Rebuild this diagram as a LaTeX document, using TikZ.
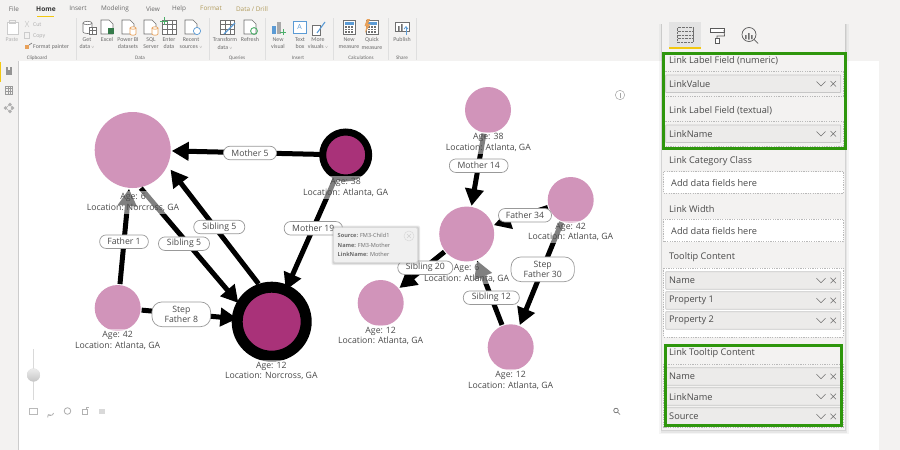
\documentclass[tikz,border=0pt]{standalone}
\usepackage{fontspec}
\setmainfont{Open Sans}
\newfontfamily\ribfont{Carlito}
\usetikzlibrary{arrows.meta}
\definecolor{ribbonbg}{HTML}{F3F2F1}
\definecolor{lightnode}{HTML}{D194BA}
\definecolor{darknode}{HTML}{A93279}
\definecolor{greenbox}{HTML}{2E960C}
\definecolor{goldbar}{HTML}{F2C811}
\definecolor{wellgray}{HTML}{ECEBEA}
\definecolor{txt}{HTML}{4A4A4A}
\definecolor{ribtxt}{HTML}{6A6A6A}
\definecolor{iconline}{HTML}{707070}
\definecolor{accblue}{HTML}{5B9BD5}
\definecolor{accorange}{HTML}{E8A15A}
\definecolor{accgreen}{HTML}{4CAF6A}
\definecolor{tabgold}{HTML}{B09A5A}
\tikzset{
  x=1pt,y=-1pt,
  linkline/.style={line width=5pt,black,-{Triangle[length=17pt,width=18pt]}},
  lightcirc/.style={circle,fill=lightnode,inner sep=0pt,outer sep=1pt},
  ringcirc/.style={circle,fill=darknode,draw=black,inner sep=0pt,outer sep=0pt},
  nodetext/.style={fill=white,fill opacity=.5,text opacity=1,text=txt,inner xsep=0pt,inner ysep=2pt,align=center,
    font=\fontsize{8.7}{10.7}\selectfont},
  linklabel/.style={draw=gray!80,line width=.7pt,fill=white,rounded corners=6.5pt,inner sep=0pt,align=center,
    text=txt,minimum height=13.5pt,font=\fontsize{8.7}{10.7}\selectfont},
  ribtext/.style={inner sep=0pt,text=ribtxt,align=center,font=\ribfont\fontsize{5.9}{7.7}\selectfont},
  tabtext/.style={inner sep=0pt,text=ribtxt,font=\fontsize{6.4}{8}\selectfont},
  paneltext/.style={inner sep=0pt,anchor=west,text=txt,font=\fontsize{9.2}{11}\selectfont},
  well/.style={draw=gray!55,dash pattern=on 1.2pt off 1.2pt,line width=.6pt},
  fieldbox/.style={draw=gray!45,line width=.7pt,fill=wellgray,rounded corners=.5pt},
  icon/.style={draw=iconline,line width=.6pt},
  greenframe/.style={draw=greenbox,line width=3pt},
}
\newcommand{\docicon}[2]{%
  \draw[icon,fill=white] (#1-6,#2-7) -- (#1+2,#2-7) -- (#1+6,#2-3) -- (#1+6,#2+7) -- (#1-6,#2+7) -- cycle;}
\newcommand{\gridicon}[2]{%
  \draw[icon,fill=white] (#1-7,#2-7) rectangle (#1+7,#2+7);
  \draw[icon] (#1-7,#2-3) -- (#1+7,#2-3) (#1-7,#2+2) -- (#1+7,#2+2) (#1-2,#2-7) -- (#1-2,#2+7) (#1+3,#2-7) -- (#1+3,#2+7);}
\newcommand{\cylsmall}[3]{%
  \draw[#3,line width=.7pt,fill=white] (#1-3,#2-3) -- (#1-3,#2+3) arc[start angle=180,end angle=360,x radius=3,y radius=-1.2] -- (#1+3,#2-3);
  \draw[#3,line width=.7pt,fill=white] (#1,#2-3) ellipse[x radius=3,y radius=1.2];}
\newcommand{\calcicon}[2]{%
  \draw[icon,fill=white] (#1-6,#2-7) rectangle (#1+6,#2+7);
  \fill[accblue] (#1-4.5,#2-5.5) rectangle (#1+4.5,#2-2.5);
  \foreach \ca in {-3,0,3}{\foreach \cb in {0,2.5,5}{\fill[iconline] (#1+\ca-.8,#2+\cb-.8) rectangle (#1+\ca+.8,#2+\cb+.8);}}}
\begin{document}
\begin{tikzpicture}
\useasboundingbox (0,0) rectangle (900,450);
% backgrounds
\fill[ribbonbg] (0,0) rectangle (900,450);
\fill[white] (18,61) rectangle (879,450);
\draw[gray!40,line width=.5pt] (18,61) -- (18,450);
\fill[goldbar] (0,62) rectangle (1.3,82);
% ribbon separators
\foreach \sx in {76,209,265,333,388,416}{\draw[gray!25,line width=.7pt] (\sx,18) -- (\sx,60);}
% ribbon tabs
\foreach \tx/\tabname/\tc [count=\i] in {14/File/ribtxt,78/Insert/ribtxt,115/Modeling/ribtxt,153/View/ribtxt,179/Help/ribtxt,211/Format/tabgold,252/{Data / Drill}/tabgold}{
  \node[tabtext,text=\tc] (tab\i) at (\tx,8.7) {\tabname};}
\node[tabtext,text=black!80,font=\fontsize{6.6}{8}\selectfont\bfseries] (tabhome) at (46,8.7) {Home};
\fill[goldbar] (37,15.6) rectangle (54,16.8);
% ribbon icons
\draw[gray!40,line width=.6pt,fill=white] (7,22) rectangle (18,34);
\draw[gray!40,line width=.6pt] (9.5,20.5) rectangle (15.5,23);
\draw[gray!40,line width=.5pt] (25,21) -- (29,27) (29,21) -- (25,27);
\draw[gray!40,line width=.5pt] (24,32) rectangle (29,38);
\fill[accorange] (25,45) rectangle (29,49);
\draw[icon] (29,45) -- (32,43);
% get data icon
\draw[icon,fill=white] (83,23) -- (83,32) arc[start angle=180,end angle=360,x radius=4.5,y radius=-1.5] -- (92,23);
\draw[icon,fill=white] (87.5,23) ellipse[x radius=4.5,y radius=1.7];
\draw[icon,fill=white] (89,27.5) rectangle (96,34);
\draw[icon] (89,30) -- (96,30) (92.5,27.5) -- (92.5,34);
\docicon{107}{27}\fill[accgreen!70!black] (108,28) rectangle (114,34);
\docicon{128}{27}\cylsmall{133}{31}{accorange}
\docicon{150}{27}\cylsmall{155}{31}{accorange}
\gridicon{169}{27}\draw[accgreen,line width=1pt] (160,21) -- (168,21) (164,17) -- (164,25);
\docicon{191}{27}\draw[accblue,line width=.7pt,fill=white] (197,31) circle[radius=3.6];
\gridicon{227}{27}\draw[accblue,line width=1.3pt] (224,34) -- (235,23);
\docicon{250}{27}\draw[accgreen,line width=.9pt] (254,31) circle[radius=3.4];
\fill[accblue] (272,26) rectangle (276,34);\fill[iconline!60] (277,22) rectangle (281,34);\draw[accgreen,line width=1pt] (280,32) -- (286,32) (283,29) -- (283,35);
\draw[accblue,line width=.8pt,fill=white] (293,21) rectangle (306,33);\node[inner sep=0pt,text=accblue,font=\fontsize{7}{8}\selectfont] (icona) at (299.5,27) {A};
\draw[icon,fill=white] (312,25) rectangle (320,35);\draw[accblue,line width=1.1pt] (317,33) -- (325,22);
\calcicon{349}{27}
\calcicon{372}{27}\fill[accorange] (367,19) -- (370,19) -- (368,24) -- (370.5,24) -- (365,33) -- (366.5,26) -- (364.5,26) -- cycle;
\draw[icon,fill=white] (395,22) rectangle (409,31);
\fill[iconline] (398,26) rectangle (399.5,31) (401,24) rectangle (402.5,31);
\draw[accblue,line width=.8pt,-{Straight Barb[length=2.5pt,width=4pt]}] (406,35) -- (406,26);
% ribbon labels
\node[ribtext,text=gray!60] (ribpaste) at (12,39.3) {Paste};
\node[ribtext,text=gray!60,anchor=west] (ribcut) at (33,24.5) {Cut};
\node[ribtext,text=gray!60,anchor=west] (ribcopy) at (33,35.7) {Copy};
\node[ribtext,anchor=west] (ribfp) at (33,47) {Format painter};
\foreach \rx/\ritem [count=\i] in {87/{Get\\data \scalebox{.6}{$\vee$}},107/{Excel\\\ },128/{Power BI\\datasets},151/{SQL\\Server},169/{Enter\\data},191/{Recent\\sources \scalebox{.6}{$\vee$}},225/{Transform\\data \scalebox{.6}{$\vee$}},250/{Refresh\\\ },278/{New\\visual},300/{Text\\box},318/{More\\visuals \scalebox{.6}{$\vee$}},349/{New\\measure},372/{Quick\\measure},402/{Publish\\\ }}{
  \node[ribtext] (ribitem\i) at (\rx,43.2) {\ritem};}
\foreach \gx/\gname [count=\i] in {37/Clipboard,140/Data,237/Queries,298/Insert,361/Calculations,402/Share}{
  \node[ribtext,font=\ribfont\fontsize{5.2}{6}\selectfont] (ribgroup\i) at (\gx,57.7) {\gname};}
% left bar icons
\fill[iconline!75] (6,67) rectangle (12,75);\fill[ribbonbg] (8,67) rectangle (10,70);
\draw[iconline!70,line width=.5pt] (5.5,86) rectangle (12.5,94) (5.5,88.7) -- (12.5,88.7) (5.5,91.3) -- (12.5,91.3) (8,86) -- (8,94) (10.3,86) -- (10.3,94);
\foreach \a/\b in {5.5/108,10/104.5,10/111.5,12.5/108}{\fill[iconline!55] (\a,\b) circle[radius=1.9];}
\draw[iconline!55,line width=.5pt] (5.5,108) -- (10,104.5) -- (12.5,108) -- (10,111.5) -- cycle;
% graph nodes
\node[lightcirc,minimum size=76pt] (big) at (132.7,150) {};
\node[ringcirc,minimum size=46pt,line width=7pt] (mother) at (345.7,155) {};
\node[lightcirc,minimum size=46pt] (aunt) at (117.7,308) {};
\node[ringcirc,minimum size=69pt,line width=11pt] (child) at (271.7,321.7) {};
\node[lightcirc,minimum size=46pt] (top) at (488,110) {};
\node[lightcirc,minimum size=55pt] (mid) at (466.7,234) {};
\node[lightcirc,minimum size=46pt] (right) at (570.7,200) {};
\node[lightcirc,minimum size=46pt] (lowleft) at (380.7,303) {};
\node[lightcirc,minimum size=46pt] (bottom) at (510.7,347.3) {};
% links
\draw[linkline] (mother) -- (big);
\draw[linkline] (aunt) -- (big);
\draw[linkline] (aunt) -- (child);
\draw[linkline,shorten >=4pt] (big.-78) -- (child.153);
\draw[linkline,shorten <=6pt,shorten >=4pt] (child.106) -- (big.-25);
\draw[linkline] (mother) -- (child);
\draw[linkline] (top) -- (mid);
\draw[linkline] (right) -- (mid);
\draw[linkline] (mid) -- (lowleft);
\draw[linkline] (bottom) -- (mid);
\draw[linkline] (right) -- (bottom);
% node captions
\node[nodetext] (bigcap) at (133,202.5) {Age: 6\\Location: Norcross, GA};
\node[nodetext] (mothercap) at (345.7,187.5) {Age: 38\\Location: Atlanta, GA};
\node[nodetext] (auntcap) at (117.7,340.3) {Age: 42\\Location: Atlanta, GA};
\node[nodetext] (childcap) at (271.3,370.8) {Age: 12\\Location: Norcross, GA};
\node[nodetext] (topcap) at (488.3,142.7) {Age: 38\\Location: Atlanta, GA};
\node[nodetext] (midcap) at (466.7,273.3) {Age: 6\\Location: Atlanta, GA};
\node[nodetext] (rightcap) at (570.7,232) {Age: 42\\Location: Atlanta, GA};
\node[nodetext] (lowleftcap) at (380.7,336) {Age: 12\\Location: Atlanta, GA};
\node[nodetext] (bottomcap) at (510.7,380.5) {Age: 12\\Location: Atlanta, GA};
% link labels
\node[linklabel,minimum width=53pt] (l1) at (250,153) {Mother 5};
\node[linklabel,minimum width=51pt] (l2) at (219.3,227) {Sibling 5};
\node[linklabel,minimum width=51pt] (l3) at (184,243.7) {Sibling 5};
\node[linklabel,minimum width=48.7pt] (l4) at (124,241.7) {Father 1};
\node[linklabel,minimum width=58.7pt,minimum height=24.7pt,rounded corners=10pt] (l5) at (181.3,314.3) {Step\\Father 8};
\node[linklabel,minimum width=58.3pt] (l6) at (313.3,228.3) {Mother 19};
\node[linklabel,minimum width=58.7pt] (l7) at (478.7,165.7) {Mother 14};
\node[linklabel,minimum width=53pt] (l8) at (525,215.3) {Father 34};
\node[linklabel,minimum width=55pt] (l9) at (425.3,267.7) {Sibling 20};
\node[linklabel,minimum width=63.3pt,minimum height=24.7pt,rounded corners=10pt] (l10) at (542.7,269.3) {Step\\Father 30};
\node[linklabel,minimum width=56pt] (l11) at (491.3,297.7) {Sibling 12};
% tooltip
\fill[gray,opacity=.18,rounded corners=2pt] (331.5,225.5) rectangle (420,265);
\fill[gray!90!black,opacity=.2,rounded corners=2pt] (332.5,226.5) rectangle (419,264);
\draw[gray!30,fill=gray!12,rounded corners=1.5pt,line width=.5pt] (333.5,227.5) rectangle (417.5,262.5);
\node[inner sep=0pt,anchor=west,text=ribtxt,align=left,font=\fontsize{5.6}{9.7}\selectfont] (tooltip) at (337.5,245)
  {\textbf{Source:} FM3-Child1\\\textbf{Name:} FM3-Mother\\\textbf{LinkName:} Mother};
\draw[gray!30,line width=.5pt] (409,236) circle[radius=5];
\draw[gray!35,line width=.6pt] (407,234) -- (411,238) (411,234) -- (407,238);
% info and zoom icons
\draw[gray!70,line width=.5pt] (620,95) circle[radius=4.7];
\draw[gray!70,line width=.8pt] (620,93) -- (620,98);
\draw[iconline,line width=.7pt] (616,410.5) circle[radius=2.3] (617.7,412.2) -- (620,414.5);
% slider and tools
\draw[gray!30,line width=1pt] (33.5,349) -- (33.5,400);
\fill[gray!35,shading=axis,top color=gray!15,bottom color=gray!45] (33.5,375) circle[radius=6.5];
\draw[gray!55,line width=.6pt] (29,408) rectangle (37,414.5);
\draw[gray!65,line width=.7pt,-{Straight Barb[length=2pt,width=4pt]}] (53.5,413) arc[start angle=0,end angle=-150,x radius=3,y radius=-2.5];
\draw[gray!65,line width=.8pt] (67.5,411) circle[radius=3.3];
\draw[gray!60,line width=.6pt] (82.5,409.5) rectangle (87,414.5) (86,409.5) -- (86,407.5) -- (89,407.5);
\fill[gray!30] (99,408.5) rectangle (105,414);
% right panel
\fill[gray,opacity=.08] (659,24) rectangle (848.5,434);
\fill[gray,opacity=.12] (660.5,24) rectangle (847,432.5);
\fill[gray,opacity=.18] (661.3,24) rectangle (846,431);
\fill[ribbonbg] (662,23) rectangle (845,430);
\fill[gray!22] (669,22) rectangle (701,47);
\fill[goldbar] (669,46.7) rectangle (701,49);
\draw[iconline,dash pattern=on .9pt off .5pt,line width=.8pt] (677.5,27.5) rectangle (693,42.5) (677.5,31.5) -- (693,31.5) (677.5,35) -- (693,35) (677.5,38.7) -- (693,38.7);
\draw[iconline!80!black,line width=.7pt,fill=white] (710.5,28) rectangle (724,32.5);
\draw[iconline!80!black,line width=.7pt] (724,30) -- (724.5,36) -- (717,36) -- (717,38);
\draw[iconline!80!black,line width=.7pt,fill=white] (715,38) rectangle (719,43);
\draw[iconline!80!black,line width=.7pt] (749,34.5) circle[radius=7] (754,39.5) -- (758,43.5);
\fill[iconline] (745,35) rectangle (746.5,39) (748,33) rectangle (749.5,39.5) (751,35) rectangle (752.5,39);
% wells
\foreach \ya/\yb/\wc [count=\i] in {71.7/96/ribbonbg,121.7/146/ribbonbg,171.7/193/white,219/241.7/white,268/337/white,364/427/ribbonbg}{
  \draw[well,fill=\wc] (663.5,\ya) rectangle (843.5,\yb);}
\foreach \fy/\fname [count=\i] in {75/LinkValue,125/LinkName,271.7/Name,291.7/Property 1,311.7/Property 2,367.7/Name,387.7/LinkName,407.7/Source}{
  \draw[fieldbox] (665.7,\fy) rectangle (840.7,\fy+17.5);
  \node[paneltext] (field\i) at (669,\fy+9) {\fname};
  \draw[iconline,line width=.6pt] (816.5,\fy+6.5) -- (821,\fy+11) -- (825.5,\fy+6.5);
  \draw[iconline,line width=.6pt] (830.5,\fy+6) -- (836,\fy+11.5) (836,\fy+6) -- (830.5,\fy+11.5);}
\foreach \py/\hname [count=\i] in {60.7/Link Label Field (numeric),110.5/Link Label Field (textual),160.7/Link Category Class,209/Link Width,257/Tooltip Content,353/Link Tooltip Content}{
  \node[paneltext] (head\i) at (669,\py) {\hname};}
\node[paneltext] (add1) at (671,183) {Add data fields here};
\node[paneltext] (add2) at (671,231.5) {Add data fields here};
% green frames
\draw[greenframe] (663,53) rectangle (845,148.5);
\draw[greenframe] (665.5,345.5) rectangle (841.5,425);
\end{tikzpicture}
\end{document}
